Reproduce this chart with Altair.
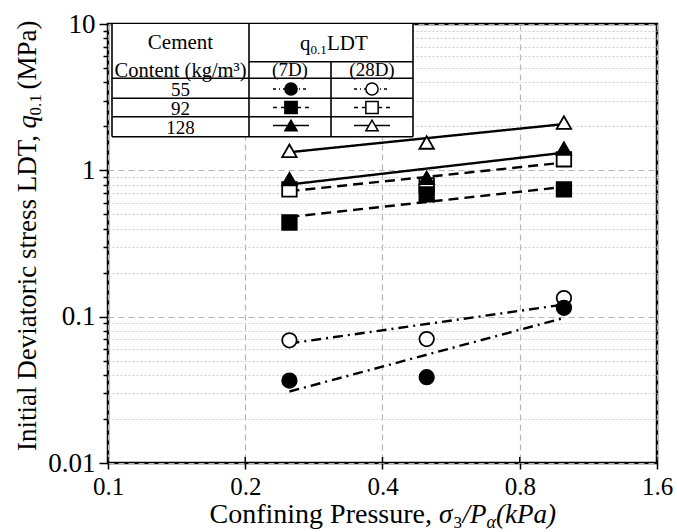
import altair as alt
import pandas as pd

# ---------------- data ----------------
x_pressure = [0.25, 0.5, 1.0]
cements = ["55", "92", "128"]
ages = ["7D", "28D"]

q_7d_55 = [0.0366, 0.0386, 0.115]
q_28d_55 = [0.0689, 0.0703, 0.134]
q_7d_92 = [0.44, 0.685, 0.74]
q_28d_92 = [0.74, 0.79, 1.19]
q_7d_128 = [0.87, 0.89, 1.41]
q_28d_128 = [1.36, 1.55, 2.12]

fit_x = [0.25, 1.0]
fit_7d_55 = [0.0308, 0.098]
fit_28d_55 = [0.0656, 0.121]
fit_7d_92 = [0.48, 0.77]
fit_28d_92 = [0.72, 1.13]
fit_7d_128 = [0.80, 1.32]
fit_28d_128 = [1.33, 2.07]

x_ticks = [0.1, 0.2, 0.4, 0.8, 1.6]
y_major = [0.01, 0.1, 1, 10]
y_minor = [0.02, 0.03, 0.04, 0.05, 0.06, 0.07, 0.08, 0.09,
           0.2, 0.3, 0.4, 0.5, 0.6, 0.7, 0.8, 0.9,
           2, 3, 4, 5, 6, 7, 8, 9]

series = {
    ("55", "7D"): q_7d_55, ("55", "28D"): q_28d_55,
    ("92", "7D"): q_7d_92, ("92", "28D"): q_28d_92,
    ("128", "7D"): q_7d_128, ("128", "28D"): q_28d_128,
}
fits = {
    ("55", "7D"): fit_7d_55, ("55", "28D"): fit_28d_55,
    ("92", "7D"): fit_7d_92, ("92", "28D"): fit_28d_92,
    ("128", "7D"): fit_7d_128, ("128", "28D"): fit_28d_128,
}

pts = pd.DataFrame([
    {"x": xv, "y": yv, "cement": c, "age": a}
    for a in ["28D", "7D"] for c in cements
    for xv, yv in zip(x_pressure, series[(c, a)])
])
fit_df = pd.DataFrame([
    {"x": xv, "y": yv, "cement": c, "age": a}
    for c in cements for a in ages
    for xv, yv in zip(fit_x, fits[(c, a)])
])
tick_df = pd.DataFrame({"x": x_ticks})

# ---------------- layout constants ----------------
W, H = 549, 439
FONT = "Liberation Serif"
major_test = "indexof([0.01, 0.1, 1, 10], datum.value) >= 0"

X_enc = alt.X("x:Q",
              scale=alt.Scale(type="log", domain=[0.1, 1.6], nice=False),
              axis=alt.Axis(values=x_ticks, format="~g", title=None,
                            grid=True, gridDash=[6, 4], gridColor="#b5b5b5",
                            gridWidth=1.2, tickSize=6, tickWidth=1.5,
                            tickColor="black", labelPadding=5,
                            labelFontSize=25, labelFont=FONT, labelColor="black",
                            domain=False, labelFlush=False))
Y_enc = alt.Y("y:Q",
              scale=alt.Scale(type="log", domain=[0.01, 10], nice=False),
              axis=alt.Axis(values=sorted(y_major + y_minor), format="~g", title=None,
                            labelExpr="indexof([0.01, 0.1, 1, 10], datum.value) >= 0 ? datum.label : ''",
                            grid=True,
                            gridDash={"condition": {"test": major_test, "value": [6, 4]}, "value": [2, 2]},
                            gridColor={"condition": {"test": major_test, "value": "#b5b5b5"}, "value": "#cfcfcf"},
                            gridWidth=1.2,
                            tickSize={"condition": {"test": major_test, "value": 9}, "value": 5},
                            tickWidth=1.5, tickColor="black", labelPadding=4,
                            labelFontSize=27, labelFont=FONT, labelColor="black",
                            domain=False, labelFlush=False))

shape_scale = alt.Scale(domain=cements, range=["circle", "square", "triangle-up"])
fill_scale = alt.Scale(domain=ages, range=["black", "white"])

dashes = {"55": [10, 5, 2, 5], "92": [10, 6], "128": [1, 0]}

one = pd.DataFrame({"k": [0]})

layers = []

# inward part of x ticks
layers.append(alt.Chart(tick_df).mark_rule(color="black", strokeWidth=1.5).encode(
    x=X_enc, y=alt.value(H), y2=alt.value(H - 6)))

# fitted trend lines
for c in cements:
    layers.append(alt.Chart(fit_df[fit_df.cement == c]).mark_line(
        color="black", strokeWidth=2.4, strokeDash=dashes[c]).encode(
        x=X_enc, y=Y_enc, detail="age:N"))

# markers: 28D first, 7D on top
for a in ["28D", "7D"]:
    layers.append(alt.Chart(pts[pts.age == a]).mark_point(
        filled=True, size=210, stroke="black", strokeWidth=1.8, opacity=1).encode(
        x=X_enc, y=Y_enc,
        shape=alt.Shape("cement:N", scale=shape_scale, legend=None),
        fill=alt.Fill("age:N", scale=fill_scale, legend=None)))

# ---------------- legend table ----------------
TL, TC1, TC2, TR = 4, 141, 223, 305
RY1, RY2, RY3, RY4, RB = 37.7, 54.3, 74.3, 92.7, 112.7

layers.append(alt.Chart(one).mark_rect(fill="white", stroke=None).encode(
    x=alt.value(TL), x2=alt.value(TR), y=alt.value(0), y2=alt.value(RB)))

def hrule(x1, x2, y):
    return alt.Chart(one).mark_rule(color="black", strokeWidth=1.6).encode(
        x=alt.value(x1), x2=alt.value(x2), y=alt.value(y))

def vrule(x, y1, y2):
    return alt.Chart(one).mark_rule(color="black", strokeWidth=1.6).encode(
        x=alt.value(x), y=alt.value(y1), y2=alt.value(y2))

layers += [
    hrule(TC1, TR, RY1), hrule(TL, TR, RY2), hrule(TL, TR, RY3),
    hrule(TL, TR, RY4), hrule(TL, TR, RB),
    vrule(TL, 0, RB), vrule(TC1, 0, RB), vrule(TC2, RY1, RB), vrule(TR, 0, RB),
]

def txt(s, x, y, size=20, align="center", style="normal", angle=0, baseline="alphabetic"):
    return alt.Chart(one).mark_text(
        text=s, font=FONT, fontSize=size, align=align, baseline=baseline,
        fontStyle=style, color="black", angle=angle).encode(
        x=alt.value(x), y=alt.value(y))

layers += [
    txt("Cement", 72.5, 24.5, size=21),
    txt("Content (kg/m³)", 72.5, 52.5, size=20.5),
    txt("q", 192, 26, size=21, align="left"),
    txt("0.1", 202.5, 30, size=13, align="left"),
    txt("LDT", 219, 26, size=21, align="left"),
    txt("(7D)", 182, 52, size=19),
    txt("(28D)", 264, 52, size=19),
    txt(cements[0], 72.5, 71.5, size=19),
    txt(cements[1], 72.5, 90.5, size=19),
    txt(cements[2], 72.5, 109.5, size=19),
]

row_y = {"55": 65, "92": 83.5, "128": 101.5}
col_x = {"7D": 183, "28D": 264}
for c in cements:
    for a in ages:
        cx, cy = col_x[a], row_y[c]
        layers.append(alt.Chart(one).mark_rule(
            color="black", strokeWidth=1.3,
            strokeDash=[3, 3, 1, 3] if c == "55" else ([4, 4] if c == "92" else [1, 0])).encode(
            x=alt.value(cx - 18), x2=alt.value(cx + 18), y=alt.value(cy)))
        layers.append(alt.Chart(one).mark_point(
            shape=shape_scale.range[cements.index(c)], filled=True, size=150,
            fill="black" if a == "7D" else "white", stroke="black",
            strokeWidth=1.5, opacity=1).encode(
            x=alt.value(cx), y=alt.value(cy)))

# ---------------- axis titles (rich text pieces) ----------------
XB = 499
layers += [
    txt("Confining Pressure,", 324, XB, size=28, align="right"),
    txt("σ", 331, XB, size=27, align="left", style="italic"),
    txt("3", 345.5, XB + 5, size=17, align="left"),
    txt("/P", 354.5, XB, size=27, align="left", style="italic"),
    txt("α", 378.5, XB + 5, size=18, align="left", style="italic"),
    txt("(kPa)", 388, XB, size=27, align="left", style="italic"),
]
YB = -72
layers += [
    txt("Initial Deviatoric stress LDT,", YB, 111, size=27, align="right", angle=270),
    txt("q", YB, 104.5, size=27, align="left", style="italic", angle=270),
    txt("0.1", YB + 5, 91.5, size=17, align="left", angle=270),
    txt("(MPa)", YB, 65.5, size=27, align="left", angle=270),
]

chart = alt.layer(*layers).properties(
    width=W, height=H,
    autosize=alt.AutoSizeParams(type="none"),
    padding={"left": 108, "top": 24, "right": 20, "bottom": 69},
    background="white",
).configure_view(stroke="black", strokeWidth=2.5)

chart.save("out.html", embed_options={"renderer": "svg", "actions": False})
